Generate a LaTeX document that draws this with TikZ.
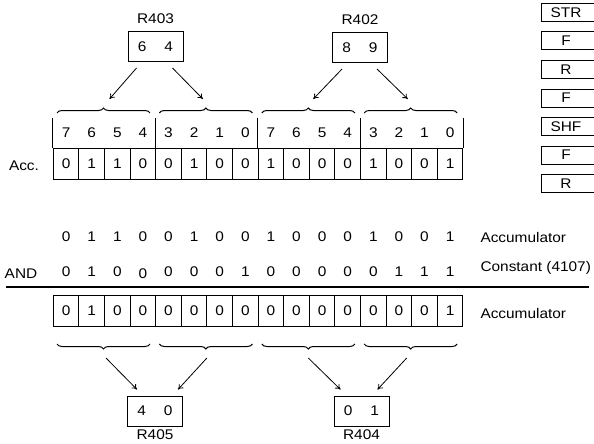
\documentclass[tikz,border=0pt]{standalone}
\usepackage{fontspec}
\setmainfont{Liberation Sans}[FakeStretch=1.1]
\usetikzlibrary{arrows.meta, decorations.pathreplacing, positioning}

\begin{document}
\begin{tikzpicture}[
		% pixel-like units, y pointing down
		x=1pt, y=-1pt,
		line width=1pt,
		font=\fontsize{14}{16}\selectfont,
		>={To[length=5pt, width=6pt]},
		cell/.style={draw, minimum width=25.6pt, minimum height=31pt, inner sep=0pt},
		regbox/.style={draw, minimum width=55pt, minimum height=30pt, inner sep=0pt},
		opbox/.style={minimum width=48pt, minimum height=17pt, inner sep=0pt},
		lbl/.style={inner sep=0pt},
		brup/.style={decorate, decoration={brace, amplitude=5pt}},
		brdown/.style={decorate, decoration={brace, amplitude=5pt, mirror}},
		arr/.style={->, line width=0.8pt}
		]
		
		\useasboundingbox (0,0) rectangle (594,444);
		\clip (0,0) rectangle (594,444);
		
		% --- 1. SOURCE REGISTERS (R403, R402) ---
		\node[regbox] (r403) at (155.5,46.5) {6\hspace{18pt}4};
		\node[lbl, above=7pt of r403] (n403) {R403};
		\node[regbox] (r402) at (360,47.5) {8\hspace{18pt}9};
		\node[lbl, above=7pt of r402] (n402) {R402};
		
		% --- 2. ACCUMULATOR WITH BIT NUMBERS ---
		\foreach \b [count=\i from 0] in {7,6,5,4,3,2,1,0,7,6,5,4,3,2,1,0} {
			\node[lbl] (bit\i) at ({53.3+25.6*(\i+0.5)},133) {\b};
		}
		\foreach \b [count=\i from 0] in {0,1,1,0,0,1,0,0,1,0,0,0,1,0,0,1} {
			\node[cell] (acc\i) at ({53.3+25.6*(\i+0.5)},164) {\b};
		}
		% nibble separators in the bit-number row
		\foreach \k in {0,4,8,12} {
			\draw (acc\k.north west) -- ++(0,-30);
		}
		\draw (acc15.north east) -- ++(0,-30);
		\node[lbl] (nacc) at (24,166) {Acc.};
		
		% Braces over each nibble
		\foreach \n in {0,...,3} {
			\draw[brup] ({57+102.4*\n},113) -- ({150+102.4*\n},113);
			\coordinate (tu\n) at ({103.5+102.4*\n},108);
		}
		
		% Arrows from the registers to the nibbles
		\draw[arr] ([shift={(9,6)}]r403.south west) -- ([shift={(6,-9)}]tu0);
		\draw[arr] ([shift={(-11,6)}]r403.south east) -- ([shift={(-3,-9)}]tu1);
		\draw[arr] ([shift={(10,6)}]r402.south west) -- ([shift={(5,-9)}]tu2);
		\draw[arr] ([shift={(-11,6)}]r402.south east) -- ([shift={(-3,-9)}]tu3);
		
		% --- 3. THE AND OPERATION ---
		\foreach \b [count=\i from 0] in {0,1,1,0,0,1,0,0,1,0,0,0,1,0,0,1} {
			\node[lbl] (ra\i) at ({53.3+25.6*(\i+0.5)},237) {\b};
		}
		\foreach \b/\dy [count=\i from 0] in {0/0,1/0,0/0,0/2,0/0,0/0,0/0,1/0,0/0,0/0,0/0,0/0,0/0,1/0,1/0,1/0} {
			\node[lbl] (rb\i) at ({53.3+25.6*(\i+0.5)},{272+\dy}) {\b};
		}
		\node[lbl] (nand) at (21,274) {AND};
		\node[lbl, anchor=west] (nacc1) at (480,237) {Accumulator};
		\node[lbl, anchor=west] (ncon) at (480,268) {Constant (4107)};
		
		\coordinate (ll) at (6,287);
		\coordinate (lr) at (589,287);
		\draw[line width=1.3pt] (ll) -- (lr);
		
		% Result
		\foreach \b [count=\i from 0] in {0,1,0,0,0,0,0,0,0,0,0,0,0,0,0,1} {
			\node[cell] (res\i) at ({53.3+25.6*(\i+0.5)},311) {\b};
		}
		\node[lbl, anchor=west] (nacc2) at (480,313) {Accumulator};
		
		% Braces under each nibble
		\foreach \n in {0,...,3} {
			\draw[brdown] ({57+102.4*\n},344) -- ({150+102.4*\n},344);
			\coordinate (tl\n) at ({103.5+102.4*\n},349);
		}
		
		% --- 4. DESTINATION REGISTERS (R405, R404) ---
		\node[regbox] (r405) at (155,411) {4\hspace{18pt}0};
		\node[lbl, below=3pt of r405] (n405) {R405};
		\node[regbox] (r404) at (361.5,411) {0\hspace{18pt}1};
		\node[lbl, below=3pt of r404] (n404) {R404};
		
		\draw[arr] ([shift={(2.5,9)}]tl0) -- ([shift={(10,-6)}]r405.north west);
		\draw[arr] ([shift={(1,9)}]tl1) -- ([shift={(-5,-6)}]r405.north east);
		\draw[arr] ([shift={(0,9)}]tl2) -- ([shift={(7,-6)}]r404.north west);
		\draw[arr] ([shift={(-4,9)}]tl3) -- ([shift={(-12,-6)}]r404.north east);
		
		% --- 5. INSTRUCTION LIST (cut at the right edge) ---
		\foreach \t [count=\i from 0] in {STR,F,R,F,SHF,F,R} {
			\node[opbox] (op\i) at (566,{12.5+28.5*\i}) {\t};
			\draw ([xshift=14pt]op\i.north east) -| (op\i.south west) -- ++(64,0);
		}
		
	\end{tikzpicture}
\end{document}
